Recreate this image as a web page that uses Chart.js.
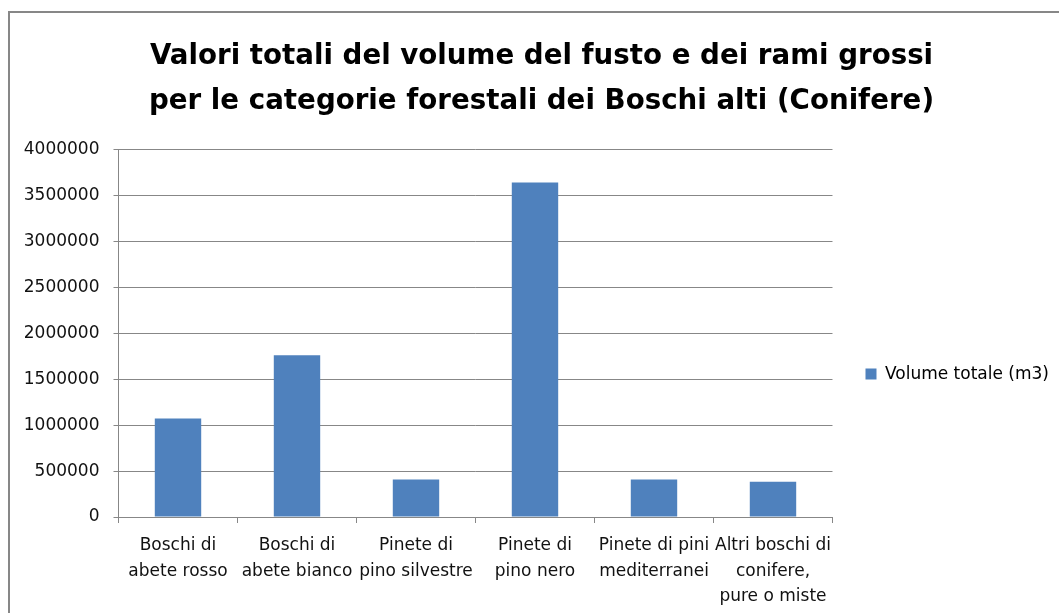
<!DOCTYPE html>
<html lang="it">
<head>
    <meta charset="UTF-8">
    <title>Volume del fusto e dei rami grossi - Conifere</title>
    <script src="https://cdn.jsdelivr.net/npm/chart.js"></script>
    <style>
        html, body { margin: 0; padding: 0; background: #fff; }
        #wrap { width: 1059px; height: 613px; }
    </style>
</head>
<body>
    <div id="wrap"><canvas id="barChart"></canvas></div>

    <script>
        // Categorie forestali (etichette asse x, su più righe)
        var categorie = [
            ['Boschi di', 'abete rosso'],
            ['Boschi di', 'abete bianco'],
            ['Pinete di', 'pino silvestre'],
            ['Pinete di', 'pino nero'],
            ['Pinete di pini', 'mediterranei'],
            ['Altri boschi di', 'conifere,', 'pure o miste']
        ];

        // Volume totale (m3)
        var volumeTotale = [1073000, 1761000, 407000, 3641000, 407000, 385000];

        var nomeSerie = 'Volume totale (m3)';
        var titolo = [
            'Valori totali del volume del fusto e dei rami grossi',
            'per le categorie forestali dei Boschi alti (Conifere)'
        ];

        var grigio = '#878787';
        var font = 'DejaVu Sans';

        // cornice esterna + sfondo bianco
        var cornice = {
            id: 'cornice',
            beforeDraw: function (chart) {
                var ctx = chart.ctx;
                ctx.save();
                ctx.fillStyle = '#fff';
                ctx.fillRect(0, 0, chart.width, chart.height);
                ctx.strokeStyle = grigio;
                ctx.lineWidth = 2;
                ctx.strokeRect(9, 12, 2000, 2000);
                ctx.restore();
            }
        };

        var config = {
            type: 'bar',
            data: {
                labels: categorie,
                datasets: [{
                    label: nomeSerie,
                    data: volumeTotale,
                    backgroundColor: '#4F81BD',
                    borderWidth: 0,
                    categoryPercentage: 0.39,
                    barPercentage: 1
                }]
            },
            options: {
                responsive: true,
                maintainAspectRatio: false,
                animation: false,
                layout: {
                    padding: { left: 24, right: 0, top: 0, bottom: 6 }
                },
                plugins: {
                    title: {
                        display: true,
                        text: titolo,
                        color: '#000',
                        font: { family: font, size: 27.7, weight: 'bold', lineHeight: 1.6 },
                        padding: { top: 35, bottom: 26 }
                    },
                    legend: {
                        position: 'right',
                        align: 'center',
                        maxWidth: 260,
                        // titolo vuoto usato solo per abbassare la voce della legenda
                        title: {
                            display: true,
                            text: ' ',
                            font: { size: 1 },
                            padding: { top: 0, bottom: 140 }
                        },
                        labels: {
                            boxWidth: 11,
                            boxHeight: 11,
                            color: '#000',
                            font: { family: font, size: 17 },
                            padding: 10
                        }
                    },
                    tooltip: { enabled: false }
                },
                scales: {
                    x: {
                        grid: {
                            display: true,
                            drawOnChartArea: false,
                            drawTicks: true,
                            tickLength: 6,
                            color: grigio
                        },
                        border: { display: true, color: grigio, width: 1 },
                        ticks: {
                            autoSkip: false,
                            maxRotation: 0,
                            minRotation: 0,
                            color: '#111',
                            padding: 10,
                            font: { family: font, size: 17, lineHeight: 1.5 }
                        },
                        afterFit: function (s) { s.height = 90; }
                    },
                    y: {
                        min: 0,
                        max: 4000000,
                        grid: {
                            color: grigio,
                            tickLength: 5
                        },
                        border: { display: true, color: grigio, width: 1 },
                        ticks: {
                            stepSize: 500000,
                            color: '#111',
                            padding: 14,
                            font: { family: font, size: 17 },
                            callback: function (v) { return String(v); }
                        },
                        afterFit: function (s) { s.width = 94.5; }
                    },
                    // spazio vuoto tra area del grafico e legenda
                    spazio: {
                        type: 'linear',
                        position: 'right',
                        display: true,
                        grid: { display: false },
                        border: { display: false },
                        ticks: { display: false },
                        afterFit: function (s) { s.width = 23; }
                    }
                }
            },
            plugins: [cornice]
        };

        var grafico = new Chart(document.getElementById('barChart'), config);
    </script>
</body>
</html>
